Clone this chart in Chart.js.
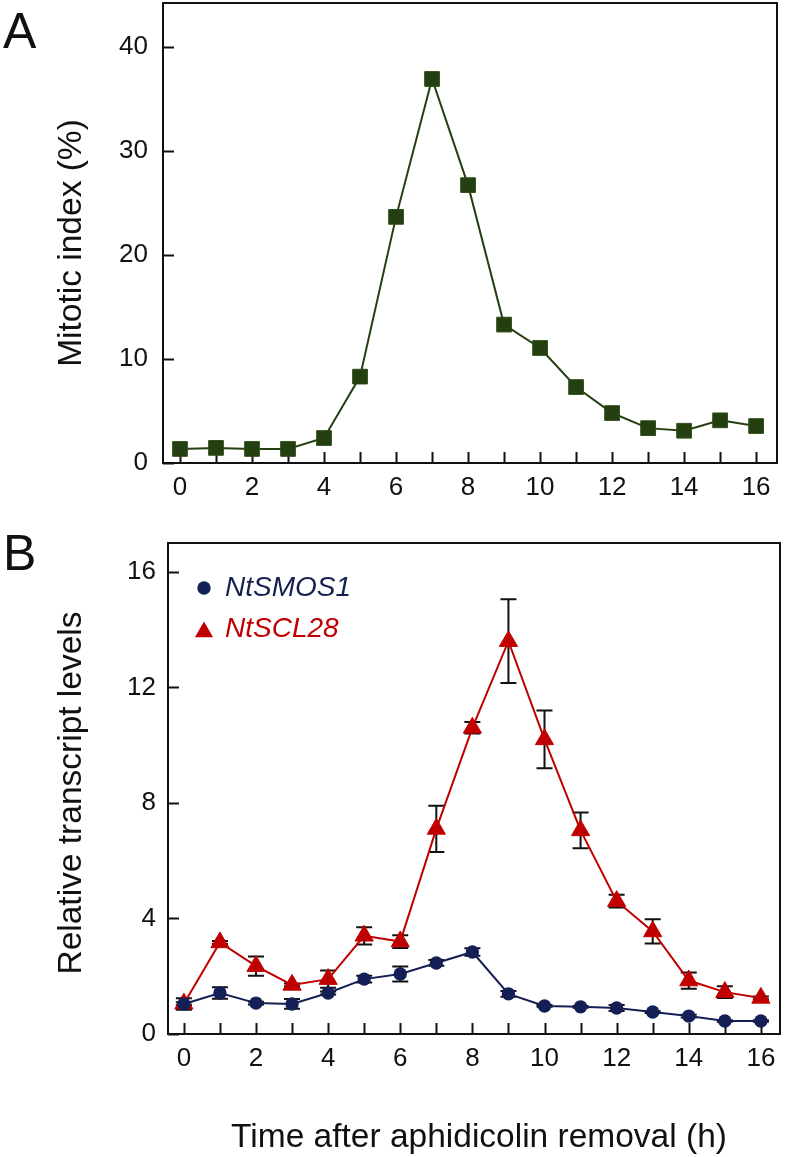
<!DOCTYPE html>
<html>
<head>
<meta charset="utf-8">
<script src="https://cdn.jsdelivr.net/npm/chart.js@4.4.1/dist/chart.umd.min.js"></script>
<style>
  body { margin: 0; background: #fff; width: 785px; height: 1157px; position: relative; overflow: hidden;
         font-family: 'Liberation Sans', Arial, Helvetica, sans-serif; color: #111; }
  .wrap { position: absolute; left: 0; width: 785px; }
  #wrapA { top: 0; height: 520px; }
  #wrapB { top: 530px; height: 627px; }
  .panel { position: absolute; left: 3px; font-size: 50px; line-height: 1; }
  .title { position: absolute; font-size: 33.5px; line-height: 1; white-space: nowrap; }
  .ytitle { transform: translate(-50%, -50%) rotate(-90deg); }
</style>
</head>
<body>
<div class="wrap" id="wrapA"><canvas id="chartA" width="785" height="520"></canvas></div>
<div class="wrap" id="wrapB"><canvas id="chartB" width="785" height="627"></canvas></div>

<div class="panel" style="top:6px">A</div>
<div class="panel" style="top:528px">B</div>
<div class="title ytitle" style="left:70px; top:243px">Mitotic index (%)</div>
<div class="title ytitle" style="left:70px; top:793px">Relative transcript levels</div>
<div class="title" style="left:479px; top:1119px; transform: translateX(-50%)">Time after aphidicolin removal (h)</div>

<script>
// hours after removal
const hours = [0, 1, 2, 3, 4, 5, 6, 7, 8, 9, 10, 11, 12, 13, 14, 15, 16];

// panel A
const mitoticIndex = [1.35, 1.45, 1.35, 1.35, 2.4, 8.3, 23.65, 36.9, 26.7, 13.3, 11.05, 7.3, 4.8, 3.35, 3.1, 4.1, 3.55];
const yTicksA = [0, 10, 20, 30, 40];

// panel B
const smos1 = [1.04, 1.42, 1.07, 1.04, 1.42, 1.9, 2.08, 2.46, 2.84, 1.39, 0.97, 0.94, 0.9, 0.76, 0.62, 0.45, 0.45];
const smos1Err = [0.2, 0.2, 0.05, 0.17, 0.05, 0.12, 0.26, 0.1, 0.13, 0.1, 0.03, 0.03, 0.1, 0.03, 0.05, 0.03, 0.03];
const scl28 = [1.05, 3.17, 2.35, 1.7, 1.9, 3.4, 3.2, 7.1, 10.6, 13.6, 10.2, 7.05, 4.6, 3.55, 1.85, 1.45, 1.25];
const scl28Err = [0.05, 0.05, 0.33, 0.05, 0.3, 0.3, 0.22, 0.8, 0.2, 1.45, 1.0, 0.62, 0.22, 0.42, 0.28, 0.2, 0.05];
const yTicksB = [0, 4, 8, 12, 16];

const xTicks = hours;

const tickFont = { family: "'Liberation Sans', Arial, sans-serif", size: 26 };
const ink = '#111';

function pts(ys) {
    return hours.map((h, i) => ({ x: h, y: ys[i] }));
}

// frame + inward tick marks
const frameTicks = {
    id: 'frameTicks',
    beforeDatasetsDraw(chart) {
        const { ctx, chartArea: a, scales: { x, y } } = chart;
        ctx.save();
        ctx.strokeStyle = ink;
        ctx.lineWidth = 2;
        ctx.strokeRect(a.left, a.top, a.right - a.left, a.bottom - a.top);
        ctx.beginPath();
        x.ticks.forEach(t => {
            const px = Math.round(x.getPixelForValue(t.value)) + 0.5;
            ctx.moveTo(px, a.bottom);
            ctx.lineTo(px, a.bottom - 11);
        });
        y.ticks.forEach(t => {
            const py = Math.round(y.getPixelForValue(t.value)) + 0.5;
            ctx.moveTo(a.left, py);
            ctx.lineTo(a.left + 11, py);
        });
        ctx.stroke();
        ctx.restore();
    }
};

// vertical error bars with caps
const errorBars = {
    id: 'errorBars',
    beforeDatasetsDraw(chart) {
        const { ctx, scales: { x, y } } = chart;
        ctx.save();
        ctx.strokeStyle = ink;
        ctx.lineWidth = 2;
        chart.data.datasets.forEach(ds => {
            if (!ds.errors) return;
            ds.data.forEach((p, i) => {
                const e = ds.errors[i];
                const px = x.getPixelForValue(p.x);
                const yHi = y.getPixelForValue(p.y + e);
                const yLo = y.getPixelForValue(p.y - e);
                ctx.beginPath();
                ctx.moveTo(px, yHi); ctx.lineTo(px, yLo);
                ctx.moveTo(px - 8, yHi); ctx.lineTo(px + 8, yHi);
                ctx.moveTo(px - 8, yLo); ctx.lineTo(px + 8, yLo);
                ctx.stroke();
            });
        });
        ctx.restore();
    }
};

// legend drawn inside the plot, top-left
const insideLegend = {
    id: 'insideLegend',
    afterDraw(chart, args, opts) {
        if (!opts.show) return;
        const { ctx, chartArea: a } = chart;
        ctx.save();
        ctx.font = 'italic 28px "Liberation Sans", Arial, sans-serif';
        ctx.textBaseline = 'middle';
        chart.data.datasets.forEach((ds, i) => {
            const px = a.left + opts.x;
            const py = a.top + opts.y + i * opts.gap;
            ctx.fillStyle = ds.pointBackgroundColor;
            Chart.helpers.drawPoint(ctx, {
                pointStyle: ds.pointStyle,
                radius: ds.pointRadius,
                rotation: 0,
                borderWidth: 0
            }, px, py + (ds.pointStyle === 'triangle' ? 3 : 0));
            ctx.fillStyle = ds.labelColor;
            ctx.fillText(ds.label, px + 21, py);
        });
        ctx.restore();
    }
};

function makeOptions(cfg) {
    return {
        responsive: false,
        animation: false,
        devicePixelRatio: 1,
        layout: { autoPadding: false, padding: { top: cfg.top, right: cfg.right, left: 0, bottom: 0 } },
        plugins: {
            legend: { display: false },
            tooltip: { enabled: false },
            insideLegend: cfg.legend || { show: false }
        },
        scales: {
            x: {
                type: 'linear',
                min: cfg.xMin,
                max: cfg.xMax,
                grid: { display: false, drawTicks: false },
                border: { display: false },
                afterBuildTicks: s => { s.ticks = xTicks.map(v => ({ value: v })); },
                afterFit: s => { s.height = cfg.xHeight; s.paddingLeft = 0; s.paddingRight = 0; },
                ticks: {
                    font: tickFont, color: ink, padding: 9, maxRotation: 0, autoSkip: false,
                    callback: v => (v % 2 === 0 ? v : '')
                }
            },
            y: {
                min: 0,
                max: cfg.yMax,
                grid: { display: false, drawTicks: false },
                border: { display: false },
                afterBuildTicks: s => { s.ticks = cfg.yTicks.map(v => ({ value: v })); },
                afterFit: s => { s.width = cfg.yWidth; s.paddingTop = 0; s.paddingBottom = 0; },
                ticks: { font: tickFont, color: ink, padding: cfg.yPad }
            }
        }
    };
}

new Chart(document.getElementById('chartA'), {
    type: 'line',
    data: {
        datasets: [{
            label: 'Mitotic index',
            data: pts(mitoticIndex),
            borderColor: '#243f10',
            borderWidth: 2,
            pointStyle: 'rect',
            pointRadius: 10.4,
            pointBackgroundColor: '#243f10',
            pointBorderColor: '#2f4d18',
            pointBorderWidth: 1,
            tension: 0
        }]
    },
    options: makeOptions({
        top: 3, right: 8, xMin: -0.472, xMax: 16.58, yMax: 44.2,
        xHeight: 57, yWidth: 163, yPad: 15, yTicks: yTicksA
    }),
    plugins: [frameTicks]
});

new Chart(document.getElementById('chartB'), {
    type: 'line',
    data: {
        datasets: [{
            label: 'NtSMOS1',
            data: pts(smos1),
            errors: smos1Err,
            labelColor: '#16204f',
            borderColor: '#141f55',
            borderWidth: 2,
            pointStyle: 'circle',
            pointRadius: 6.7,
            pointBackgroundColor: '#141f55',
            pointBorderColor: '#141f55',
            pointBorderWidth: 0,
            tension: 0
        }, {
            label: 'NtSCL28',
            data: pts(scl28),
            errors: scl28Err,
            labelColor: '#c00000',
            borderColor: '#c00000',
            borderWidth: 2,
            pointStyle: 'triangle',
            pointRadius: 10.5,
            pointBackgroundColor: '#c00000',
            pointBorderColor: '#c00000',
            pointBorderWidth: 1,
            tension: 0
        }]
    },
    options: makeOptions({
        top: 13, right: 5, xMin: -0.44, xMax: 16.53, yMax: 17.0,
        xHeight: 123, yWidth: 168, yPad: 12, yTicks: yTicksB,
        legend: { show: true, x: 36, y: 45, gap: 41 }
    }),
    plugins: [frameTicks, errorBars, insideLegend]
});
</script>
</body>
</html>
